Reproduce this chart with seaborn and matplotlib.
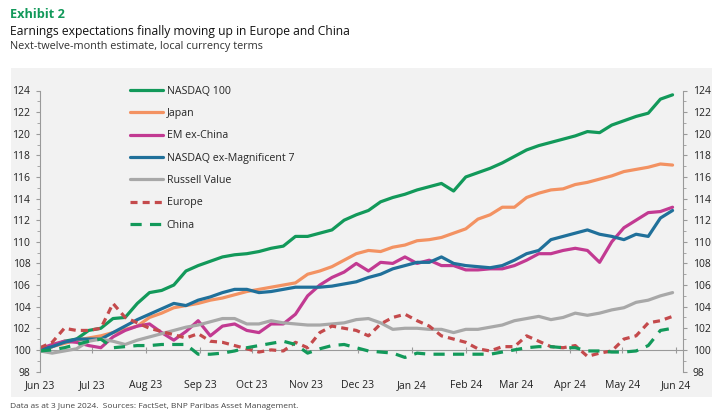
import numpy as np
import pandas as pd
import matplotlib.pyplot as plt
import matplotlib.dates as mdates
from matplotlib.patches import Rectangle
import seaborn as sns

sns.set_style("white")
plt.rcParams['font.family'] = ['Open Sans', 'DejaVu Sans']

# Weekly next-twelve-month EPS estimates, rebased to 100
dates = pd.date_range("2023-06-01", periods=53, freq="7D")

nasdaq_100 = [100.0, 100.3, 100.8, 101.0, 101.8, 102.0, 102.9, 103.0, 104.3, 105.3,
              105.5, 106.0, 107.3, 107.8, 108.2, 108.6, 108.8, 108.9, 109.1, 109.4,
              109.6, 110.5, 110.5, 110.8, 111.1, 112.0, 112.5, 112.9, 113.7, 114.1,
              114.4, 114.8, 115.1, 115.4, 114.7, 116.0, 116.4, 116.8, 117.3, 117.9,
              118.5, 118.9, 119.2, 119.5, 119.8, 120.2, 120.1, 120.8, 121.2, 121.6,
              121.9, 123.2, 123.6]
japan = [100.0, 100.3, 100.6, 100.9, 101.1, 101.3, 101.6, 101.9, 102.2, 103.0,
         103.4, 103.9, 104.1, 104.3, 104.6, 104.8, 105.1, 105.4, 105.6, 105.8,
         106.0, 106.2, 107.0, 107.3, 107.7, 108.3, 108.9, 109.2, 109.1, 109.5,
         109.7, 110.1, 110.2, 110.4, 110.8, 111.2, 112.1, 112.5, 113.2, 113.2,
         114.1, 114.5, 114.8, 114.9, 115.3, 115.5, 115.8, 116.1, 116.5, 116.7,
         116.9, 117.2, 117.1]
em_ex_china = [100.1, 100.5, 100.8, 100.7, 100.4, 100.2, 101.2, 101.8, 102.2, 102.4,
               101.6, 100.9, 101.7, 102.7, 101.3, 102.2, 102.4, 101.8, 101.6, 102.4,
               102.4, 103.3, 105.0, 106.0, 106.7, 107.2, 108.0, 107.3, 108.1, 108.0,
               108.6, 108.0, 108.3, 107.8, 107.8, 107.4, 107.4, 107.5, 107.5, 107.8,
               108.3, 108.9, 108.9, 109.2, 109.4, 109.2, 108.1, 110.0, 111.3, 112.0,
               112.7, 112.8, 113.2]
nasdaq_ex_mag7 = [100.0, 100.3, 100.7, 101.0, 101.0, 101.0, 101.6, 102.2, 102.8, 103.3,
                  103.8, 104.3, 104.1, 104.6, 104.9, 105.3, 105.6, 105.6, 105.3, 105.4,
                  105.6, 105.8, 105.8, 105.8, 105.9, 106.1, 106.3, 106.7, 107.0, 107.5,
                  107.8, 108.1, 108.1, 108.6, 108.0, 107.8, 107.7, 107.6, 107.8, 108.3,
                  108.9, 109.2, 110.2, 110.5, 110.8, 111.1, 110.7, 110.5, 110.2, 110.7,
                  110.5, 112.2, 112.9]
russell_value = [99.9, 99.7, 99.9, 100.1, 100.8, 101.0, 100.8, 100.5, 100.9, 101.2,
                 101.5, 101.8, 102.1, 102.3, 102.6, 102.9, 102.9, 102.4, 102.4, 102.7,
                 102.5, 102.4, 102.3, 102.3, 102.4, 102.5, 102.8, 102.9, 102.5, 101.9,
                 102.0, 102.0, 101.9, 101.9, 101.6, 101.9, 101.9, 102.1, 102.3, 102.7,
                 102.9, 103.1, 102.8, 103.0, 103.4, 103.2, 103.4, 103.7, 103.9, 104.4,
                 104.6, 105.0, 105.3]
europe = [100.2, 100.7, 102.0, 101.8, 101.8, 102.0, 104.3, 103.0, 102.5, 102.0,
          101.7, 101.4, 101.1, 101.5, 100.8, 100.7, 100.4, 100.1, 99.8, 100.0,
          99.9, 100.7, 100.2, 101.6, 102.2, 102.0, 101.8, 101.3, 102.4, 103.0,
          103.3, 102.7, 102.2, 101.3, 101.0, 100.7, 100.1, 99.9, 100.3, 100.3,
          101.3, 100.8, 100.3, 100.2, 100.4, 99.4, 99.7, 99.9, 101.0, 101.3,
          102.5, 102.7, 103.1]
china = [99.9, 100.0, 100.2, 100.5, 100.8, 101.0, 100.2, 100.3, 100.4, 100.4,
         100.5, 100.5, 100.5, 99.6, 99.6, 99.7, 99.9, 100.2, 100.4, 100.6,
         100.8, 100.5, 99.7, 100.1, 100.4, 100.5, 100.2, 99.9, 99.8, 99.7,
         99.3, 99.7, 99.6, 99.6, 99.6, 99.6, 99.6, 99.6, 99.8, 100.0,
         100.2, 100.3, 100.3, 100.2, 100.2, 99.9, 99.9, 99.8, 99.8, 99.9,
         100.4, 101.8, 102.0]

series = {
    "NASDAQ 100": nasdaq_100,
    "Japan": japan,
    "EM ex-China": em_ex_china,
    "NASDAQ ex-Magnificent 7": nasdaq_ex_mag7,
    "Russell Value": russell_value,
    "Europe": europe,
    "China": china,
}
colors = {
    "NASDAQ 100": "#12995a",
    "Japan": "#f39262",
    "EM ex-China": "#c23a92",
    "NASDAQ ex-Magnificent 7": "#20709a",
    "Russell Value": "#a8a8a8",
    "Europe": "#c44a4c",
    "China": "#12995a",
}
dash_styles = {
    "NASDAQ 100": "",
    "Japan": "",
    "EM ex-China": "",
    "NASDAQ ex-Magnificent 7": "",
    "Russell Value": "",
    "Europe": (2.2, 1.6),
    "China": (3.5, 2.6),
}

df = pd.concat(
    [pd.DataFrame({"date": dates, "value": v, "series": k}) for k, v in series.items()],
    ignore_index=True)

fig = plt.figure(figsize=(7.25, 4.2), dpi=100)

# grey panel behind chart
panel = Rectangle((11 / 725, 1 - 397 / 420), 701 / 725, 329 / 420,
                  transform=fig.transFigure, facecolor="#f2f2f2",
                  edgecolor="none", zorder=-10)
fig.add_artist(panel)

ax = fig.add_axes([40 / 725, 1 - 371.5 / 420, 643 / 725, 281 / 420])
ax.set_facecolor("none")

sns.lineplot(data=df, x="date", y="value", hue="series", style="series",
             palette=colors, dashes=dash_styles, linewidth=2.3, ax=ax,
             hue_order=list(series.keys()), style_order=list(series.keys()))

ax.set_xlim(pd.Timestamp("2023-06-01"), pd.Timestamp("2024-06-05"))
ax.set_ylim(98, 124)
ax.set_xlabel("")
ax.set_ylabel("")

tick_col = "#9a9a9a"
for s in ["top", "bottom", "right"]:
    ax.spines[s].set_visible(False)
ax.spines["left"].set_color(tick_col)
ax.spines["left"].set_linewidth(0.8)

ax.set_yticks(np.arange(98, 125, 2))
ax.set_yticks(np.arange(98, 125, 1), minor=True)
ax.tick_params(axis="y", which="both", direction="out", color=tick_col,
               labelsize=7.5, labelcolor="#222222", pad=4, left=True)
ax.tick_params(axis="y", which="major", length=3)
ax.tick_params(axis="y", which="minor", length=2)

months = mdates.MonthLocator()
ax.xaxis.set_major_locator(months)
ax.xaxis.set_major_formatter(mdates.DateFormatter("%b %y"))
ax.tick_params(axis="x", length=0, labelsize=7.5, labelcolor="#222222", pad=6)

# right-hand axis
ax2 = ax.twinx()
ax2.set_ylim(98, 124)
for s in ["top", "bottom", "left"]:
    ax2.spines[s].set_visible(False)
ax2.spines["right"].set_color(tick_col)
ax2.spines["right"].set_linewidth(0.8)
ax2.set_yticks(np.arange(98, 125, 2))
ax2.set_yticks(np.arange(98, 125, 1), minor=True)
ax2.tick_params(axis="y", which="both", direction="out", color=tick_col,
                labelsize=7.5, labelcolor="#222222", pad=4, right=True)
ax2.tick_params(axis="y", which="major", length=3)
ax2.tick_params(axis="y", which="minor", length=2)

# horizontal axis line at 100 with month ticks
sec = ax.secondary_xaxis(2 / 26)
sec.xaxis.set_major_locator(mdates.MonthLocator())
sec.tick_params(axis="x", direction="inout", length=5, color=tick_col,
                labelbottom=False)
sec.spines["bottom"].set_color(tick_col)
sec.spines["bottom"].set_linewidth(0.8)

# legend
handles, labels = ax.get_legend_handles_labels()
leg = ax.legend(handles, labels, loc="upper left",
                bbox_to_anchor=(120 / 725, 1 - 76 / 420),
                bbox_transform=fig.transFigure, frameon=False,
                fontsize=7.7, handlelength=3.1, handletextpad=0.35,
                labelspacing=1.06)
for line in leg.get_lines():
    line.set_linewidth(2.3)

# titles and footer
fig.text(10 / 725, 1 - 15 / 420, "Exhibit 2", fontsize=9.2, fontweight="bold",
         color="#12995a", va="center")
fig.text(10 / 725, 1 - 31 / 420,
         "Earnings expectations finally moving up in Europe and China",
         fontsize=8.7, color="#111111", va="center")
fig.text(10 / 725, 1 - 46 / 420,
         "Next-twelve-month estimate, local currency terms",
         fontsize=7.8, color="#333333", va="center")
fig.text(10 / 725, 1 - 407 / 420,
         "Data as at 3 June 2024.  Sources: FactSet, BNP Paribas Asset Management.",
         fontsize=6.05, color="#444444", va="center")

fig.savefig("out.png", dpi=100)
